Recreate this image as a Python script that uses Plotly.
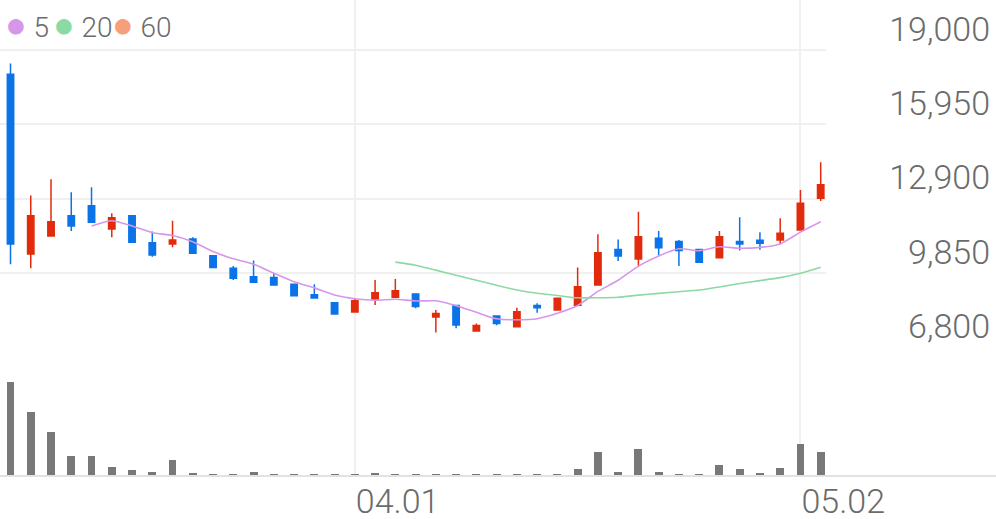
import plotly.graph_objects as go

# ---------------- data ----------------
dates = [
    "2025-03-07", "2025-03-10", "2025-03-11", "2025-03-12", "2025-03-13", "2025-03-14",
    "2025-03-17", "2025-03-18", "2025-03-19", "2025-03-20", "2025-03-21",
    "2025-03-24", "2025-03-25", "2025-03-26", "2025-03-27", "2025-03-28",
    "2025-03-31", "2025-04-01", "2025-04-02", "2025-04-03", "2025-04-04",
    "2025-04-07", "2025-04-08", "2025-04-09", "2025-04-10", "2025-04-11",
    "2025-04-14", "2025-04-15", "2025-04-16", "2025-04-17", "2025-04-18",
    "2025-04-21", "2025-04-22", "2025-04-23", "2025-04-24", "2025-04-25",
    "2025-04-28", "2025-04-29", "2025-04-30", "2025-05-02", "2025-05-07",
]
open_ = [18000, 10620, 11360, 12190, 12600, 11650, 12190, 11080, 11030, 11240, 10550,
         10030, 9690, 9650, 9380, 8950, 8620, 8240, 8770, 8840, 8980,
         8030, 8500, 7460, 8070, 7630, 8500, 8320, 8520, 9350, 10810,
         10410, 11270, 11130, 10810, 10470, 11130, 11180, 11200, 11610, 12910]
high = [18450, 13020, 13690, 13160, 13360, 12290, 12200, 11540, 11990, 11310, 10560,
        10130, 10350, 9830, 9390, 9380, 8630, 8800, 9550, 9590, 9010,
        8320, 8510, 7770, 8080, 8410, 8600, 8810, 10070, 11430, 11220,
        12360, 11570, 11200, 10820, 11570, 12130, 11510, 12090, 13250, 14390]
low = [10200, 10030, 11340, 11570, 11900, 11310, 11080, 10510, 10900, 10620, 10030,
       9550, 9450, 9330, 8870, 8800, 8120, 8230, 8530, 8830, 8390,
       7400, 7570, 7450, 7690, 7620, 8210, 8310, 8510, 9340, 10330,
       10100, 10580, 10130, 10270, 10460, 10760, 10790, 11030, 11600, 12800]
close = [11030, 12190, 11950, 11770, 11920, 12110, 11100, 10580, 11200, 10650, 10070,
         9620, 9460, 9350, 8910, 8810, 8160, 8700, 9030, 9110, 8460,
         8180, 7700, 7680, 7770, 8250, 8410, 8800, 9280, 10670, 10540,
         11330, 10880, 10760, 10280, 11330, 11030, 11060, 11470, 12700, 13460]
volume = [9260000, 6260000, 4300000, 1900000, 1930000, 760000, 460000, 260000, 1500000, 200000, 130000,
          130000, 260000, 100000, 100000, 100000, 70000, 70000, 230000, 130000, 100000,
          100000, 70000, 70000, 70000, 130000, 70000, 70000, 630000, 2330000, 330000,
          2630000, 260000, 130000, 70000, 1000000, 560000, 160000, 730000, 3100000, 2300000]
ma5 = [None, None, None, None,
       11773, 11989, 11771, 11497, 11382, 11127, 10720, 10424, 10200, 9830, 9482, 9229,
       8936, 8785, 8722, 8763, 8692, 8697, 8498, 8226, 7959, 7917, 7963, 8183, 8503,
       9083, 9541, 10124, 10540, 10836, 10757, 10915, 10855, 10892, 11035, 11519, 11944]
ma20 = [None] * 19 + [10286, 10158, 9957, 9745, 9540, 9333, 9140, 9005, 8916, 8820, 8822,
                      8845, 8930, 9001, 9072, 9140, 9266, 9410, 9528, 9650, 9830, 10079]
ma_names = ["5", "20", "60"]
ma_colors = ["#D597E8", "#8BD9A3", "#F5A07A"]
price_ticks = [6800, 9850, 12900, 15950, 19000]
price_tick_text = ["6,800", "9,850", "12,900", "15,950", "19,000"]
date_ticks = ["2025-04-01", "2025-05-02"]
date_tick_text = ["04.01", "05.02"]

# ---------------- layout geometry ----------------
W, H = 996, 519
UP, DOWN = "#E22B0C", "#0A73E8"
GRID = "#F0F0F0"
TXT = "#6B6B6B"
FONT = "Roboto"

price_bottom_px, price_top_val_px = 347, 50
price_span = price_ticks[-1] - price_ticks[0]
px_per_val = (price_bottom_px - price_top_val_px) / price_span
price_range = [price_ticks[0], price_ticks[-1] + price_top_val_px / px_per_val]

step_px, first_px, plot_right_px = 20.255, 10.5, 826
r0 = -first_px / step_px
x_range = [r0, r0 + plot_right_px / step_px]
x2_range = [r0, r0 + W / step_px]

vol_base_px = 475
vol_top = max(volume) * (vol_base_px - price_bottom_px) / 92.6

fig = go.Figure()
fig.add_trace(go.Candlestick(
    x=dates, open=open_, high=high, low=low, close=close,
    increasing=dict(line=dict(color=UP, width=1.5), fillcolor=UP),
    decreasing=dict(line=dict(color=DOWN, width=1.5), fillcolor=DOWN),
    whiskerwidth=0, xaxis="x", yaxis="y", showlegend=False, hoverinfo="skip",
))
fig.add_trace(go.Scatter(x=dates, y=ma5, mode="lines", line=dict(color=ma_colors[0], width=1.6, shape="spline", smoothing=0.6),
                         xaxis="x", yaxis="y3", showlegend=False, hoverinfo="skip"))
fig.add_trace(go.Scatter(x=dates, y=ma20, mode="lines", line=dict(color=ma_colors[1], width=1.6, shape="spline", smoothing=0.6),
                         xaxis="x", yaxis="y3", showlegend=False, hoverinfo="skip"))
fig.add_trace(go.Bar(x=dates, y=volume, marker=dict(color="#787878", line=dict(width=0)), width=0.39,
                     xaxis="x2", yaxis="y2", showlegend=False, hoverinfo="skip"))

common_x = dict(type="category", categoryorder="array", categoryarray=dates, tickvals=date_ticks,
                showgrid=True, gridcolor=GRID, gridwidth=2, zeroline=False, fixedrange=True,
                automargin=False)
fig.update_layout(
    width=W, height=H, margin=dict(l=0, r=0, t=0, b=0, pad=0, autoexpand=False),
    paper_bgcolor="white", plot_bgcolor="white", showlegend=False,
    boxgap=0.55, bargap=0,
    font=dict(family=FONT, color=TXT),
    xaxis=dict(common_x, domain=[0, plot_right_px / W], range=x_range, anchor="y",
               showticklabels=False, ticks="", rangeslider=dict(visible=False)),
    xaxis2=dict(common_x, domain=[0, 1], range=x2_range, anchor="y2",
                ticktext=date_tick_text, ticks="", showline=True, linecolor="#E2E2E2", linewidth=2,
                ticklabelposition="outside right", ticklabelstandoff=-5,
                tickfont=dict(size=34, color=TXT, family=FONT, weight=300)),
    yaxis=dict(domain=[1 - price_bottom_px / H, 1], range=price_range, tickvals=price_ticks,
               showticklabels=False, showgrid=True, gridcolor=GRID, gridwidth=2, zeroline=False,
               ticks="", fixedrange=True, automargin=False),
    yaxis3=dict(overlaying="y", range=price_range, anchor="free", position=993 / W, side="right",
                tickvals=price_ticks, ticktext=price_tick_text, ticklabelposition="inside",
                showgrid=False, zeroline=False, showline=False, ticks="", ticklabelshift=-21,
                tickfont=dict(size=34, color=TXT, family=FONT, weight=300), fixedrange=True,
                automargin=False),
    yaxis2=dict(domain=[1 - vol_base_px / H, 1 - price_bottom_px / H], range=[0, vol_top],
                tickvals=[vol_top * 0.996], showticklabels=False, showgrid=True, gridcolor=GRID, gridwidth=2,
                zeroline=False, ticks="", fixedrange=True, automargin=False),
)

legend_x = [3, 51, 110]
for name, col, lx in zip(ma_names, ma_colors, legend_x):
    fig.add_annotation(
        xref="paper", yref="paper", x=lx / W, y=1 - 25 / H, xanchor="left", yanchor="middle",
        showarrow=False,
        text=f"<span style='color:{col};font-size:36px'>●</span> {name}",
        font=dict(size=28, color=TXT, family=FONT, weight=300),
    )

fig.write_html("out.html", config={"displayModeBar": False, "staticPlot": True},
               post_script="document.body.style.margin='0px';")
